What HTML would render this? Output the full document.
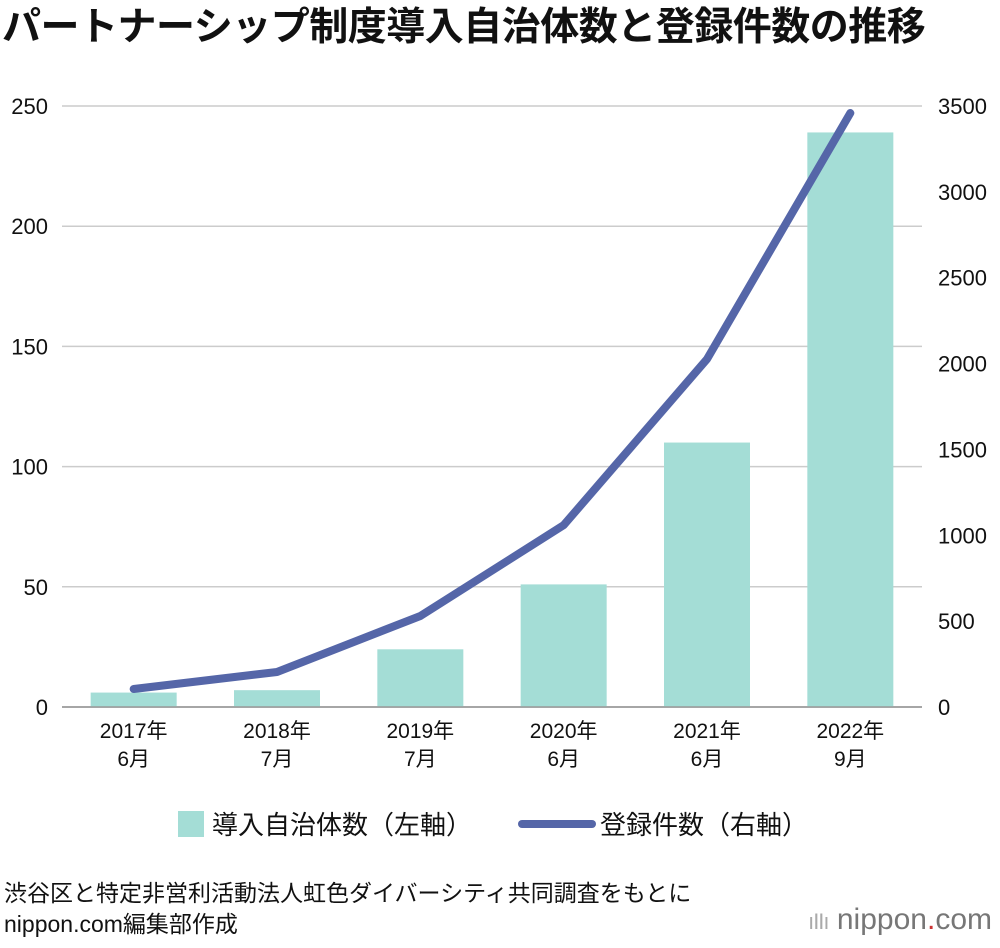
<!DOCTYPE html>
<html><head><meta charset="utf-8">
<style>
body{margin:0;background:#fff;width:1000px;height:948px;overflow:hidden;font-family:"Liberation Sans","Noto Sans CJK JP",sans-serif;color:#111}
#title{position:absolute;left:2px;top:-4px;font-size:39px;font-weight:bold;letter-spacing:-0.5px;white-space:nowrap}
svg{position:absolute;left:0;top:0}
.src{position:absolute;left:4px;font-size:23px;white-space:nowrap}
</style></head><body>
<div id="title">パートナーシップ制度導入自治体数と登録件数の推移</div>
<svg id="chart" width="1000" height="948"></svg>
<div class="src" style="top:874px">渋谷区と特定非営利活動法人虹色ダイバーシティ共同調査をもとに</div>
<div class="src" style="top:905px">nippon.com編集部作成</div>
<div style="position:absolute;right:8px;top:903px;font-size:30px;color:#777;white-space:nowrap"><span style="letter-spacing:-1px;color:#aaa;font-size:22px">ıIIı</span> nippon<span style="color:#c33">.</span>com</div>
<script>
const categories=[["2017年","6月"],["2018年","7月"],["2019年","7月"],["2020年","6月"],["2021年","6月"],["2022年","9月"]];
const barValues=[6,7,24,51,110,239];
const lineValues=[105,204,530,1059,2026,3459];
const leftTicks=[0,50,100,150,200,250];
const rightTicks=[0,500,1000,1500,2000,2500,3000,3500];
const NS="http://www.w3.org/2000/svg";
const svg=document.getElementById('chart');
const X0=62,X1=922,Y0=707,Y1=106;
const band=(X1-X0)/categories.length;
const xc=i=>X0+band*(i+0.5);
const yL=v=>Y0-(v/250)*(Y0-Y1);
const yR=v=>Y0-(v/3500)*(Y0-Y1);
function mk(t,a){const e=document.createElementNS(NS,t);for(const k in a)e.setAttribute(k,a[k]);svg.appendChild(e);return e;}
leftTicks.forEach(v=>{
  const g=mk('line',{x1:X0,x2:X1,y1:yL(v),y2:yL(v),stroke:v===0?'#999':'#ccc','stroke-width':1.5});
  
  
  const t=mk('text',{x:48,y:yL(v)+8,'text-anchor':'end','font-size':22,fill:'#111'});
  t.textContent=v;
  
  
});
rightTicks.forEach(v=>{
  const t=mk('text',{x:938,y:yR(v)+8,'text-anchor':'start','font-size':22,fill:'#111'});
  t.textContent=v;
  
  
});
const bw=86;
barValues.forEach((v,i)=>{
  const r=mk('rect',{x:xc(i)-bw/2,y:yL(v),width:bw,height:Y0-yL(v),fill:'#a4ddd6'});
  
  
});
mk('line',{x1:X0,x2:X1,y1:Y0,y2:Y0,stroke:'#999','stroke-width':1.5});
const pts=lineValues.map((v,i)=>xc(i)+','+yR(v)).join(' ');
const pl=mk('polyline',{points:pts,fill:'none',stroke:'#5566a8','stroke-width':8,'stroke-linejoin':'round','stroke-linecap':'round'});


categories.forEach((c,i)=>{
  c.forEach((s,j)=>{
    const t=mk('text',{x:xc(i),y:738+j*28,'text-anchor':'middle','font-size':21,fill:'#111'});
    t.textContent=s;
    
    
  });
});
const lr=mk('rect',{x:178,y:811,width:26,height:26,fill:'#a4ddd6'});


const lt1=mk('text',{x:212,y:834,'font-size':26,fill:'#111'});
lt1.textContent='導入自治体数（左軸）';


const ll=mk('line',{x1:522,x2:592,y1:824,y2:824,stroke:'#5566a8','stroke-width':8,'stroke-linecap':'round'});


const lt2=mk('text',{x:600,y:834,'font-size':26,fill:'#111'});
lt2.textContent='登録件数（右軸）';


</script>
</body></html>
